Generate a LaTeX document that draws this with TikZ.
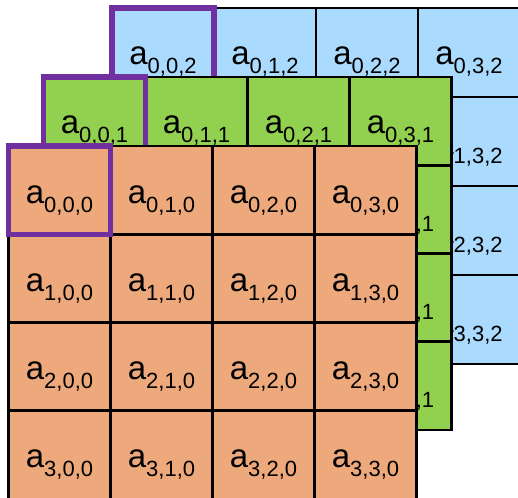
\documentclass[tikz,border=0pt]{standalone}
\usepackage{fontspec}
\setmainfont{Liberation Sans}
\definecolor{bluecell}{HTML}{AADBFE}
\definecolor{greencell}{HTML}{92D050}
\definecolor{orangecell}{HTML}{EDA97B}
\definecolor{selpurple}{HTML}{7030A0}
\newcommand\subidx[1]{\raisebox{-9pt}{\fontsize{22}{26}\selectfont #1}}
\begin{document}
\begin{tikzpicture}[x=1pt,y=-1pt,
  cell/.style={rectangle, draw=black, line width=2.8pt, minimum width=102pt,
    inner sep=0pt, outer sep=0pt, anchor=north west},
  lbl/.style={anchor=base, inner sep=0pt, font=\fontsize{33}{40}\selectfont},
  selbox/.style={draw=selpurple, line width=5.5pt}]
\useasboundingbox (0,0) rectangle (518,497);
\clip (0,0) rectangle (518,497);
\foreach \L/\xo/\yo/\h/\col in {2/112/8/89/bluecell, 1/43.5/77/88.25/greencell, 0/8.5/146/88.25/orangecell} {
  \foreach \r in {0,...,3} {
    \foreach \c in {0,...,3} {
      \node[cell, fill=\col, minimum height=\h pt] (L\L-\r-\c) at ({\xo+\c*102},{\yo+\r*\h}) {};
      \node[lbl] (T\L-\r-\c) at ({\xo+\c*102+51},{\yo+\r*\h+57}) {a\subidx{\r,\c,\L}};
    }
  }
  \draw[selbox] (L\L-0-0.north west) rectangle (L\L-0-0.south east);
}
\end{tikzpicture}
\end{document}
